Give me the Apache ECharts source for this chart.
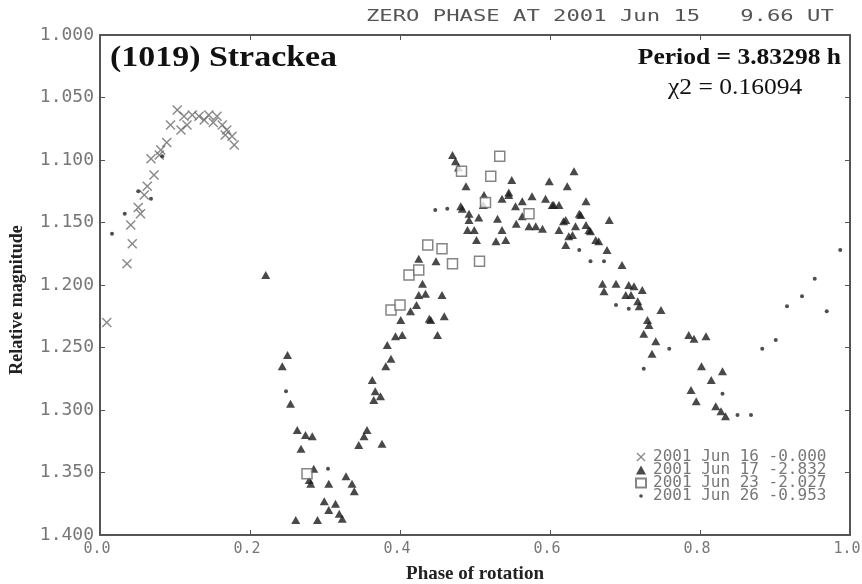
<!DOCTYPE html>
<html>
<head>
<meta charset="utf-8">
<script src="https://cdn.jsdelivr.net/npm/echarts@6/dist/echarts.min.js"></script>
<style>
  html, body { margin: 0; padding: 0; background: #fff; }
  #chart { width: 862px; height: 584px; }
</style>
</head>
<body>
<div id="chart"></div>
<script>
// [phase, relative magnitude] per night
const jun16 = [
  [0.009, 1.230], [0.036, 1.183], [0.043, 1.167], [0.041, 1.152], [0.054, 1.143], [0.051, 1.138],
  [0.059, 1.128], [0.063, 1.121], [0.072, 1.112], [0.068, 1.099], [0.079, 1.096], [0.081, 1.092],
  [0.089, 1.086], [0.094, 1.072], [0.103, 1.060], [0.108, 1.076], [0.112, 1.065], [0.116, 1.072],
  [0.123, 1.064], [0.132, 1.065], [0.139, 1.068], [0.145, 1.064], [0.151, 1.070], [0.156, 1.065],
  [0.163, 1.072], [0.167, 1.080], [0.169, 1.076], [0.176, 1.081], [0.179, 1.088]
]
const jun17 = [
  [0.221, 1.192],
  [0.243, 1.265], [0.250, 1.256], [0.254, 1.295],
  [0.263, 1.316], [0.274, 1.320], [0.283, 1.321], [0.268, 1.331], [0.285, 1.347], [0.279, 1.356],
  [0.281, 1.359], [0.305, 1.359], [0.328, 1.353], [0.336, 1.359], [0.339, 1.365],
  [0.299, 1.373], [0.314, 1.375], [0.319, 1.383], [0.305, 1.380], [0.261, 1.388], [0.290, 1.388], [0.323, 1.387],
  [0.345, 1.328], [0.352, 1.321], [0.356, 1.316], [0.376, 1.327], [0.363, 1.276], [0.365, 1.292],
  [0.374, 1.289], [0.367, 1.285], [0.381, 1.265], [0.388, 1.259], [0.383, 1.248], [0.394, 1.241],
  [0.403, 1.240], [0.401, 1.228], [0.441, 1.228], [0.450, 1.240], [0.414, 1.221], [0.422, 1.216],
  [0.425, 1.208], [0.434, 1.207], [0.430, 1.199], [0.456, 1.208], [0.439, 1.227], [0.459, 1.225],
  [0.425, 1.179], [0.448, 1.181],
  [0.470, 1.096], [0.474, 1.101], [0.478, 1.106], [0.488, 1.121], [0.549, 1.116], [0.599, 1.117],
  [0.632, 1.109], [0.623, 1.121], [0.512, 1.128], [0.511, 1.136], [0.536, 1.131], [0.545, 1.128],
  [0.563, 1.133], [0.576, 1.129], [0.594, 1.131], [0.603, 1.136], [0.612, 1.136], [0.648, 1.133],
  [0.481, 1.137], [0.492, 1.143], [0.505, 1.146], [0.554, 1.137], [0.545, 1.126],
  [0.483, 1.139], [0.492, 1.148], [0.499, 1.156], [0.490, 1.156], [0.502, 1.164], [0.530, 1.147],
  [0.536, 1.156], [0.528, 1.165], [0.541, 1.164], [0.555, 1.151], [0.563, 1.145], [0.572, 1.153],
  [0.581, 1.153], [0.590, 1.155], [0.612, 1.156], [0.621, 1.148], [0.639, 1.143], [0.634, 1.153],
  [0.625, 1.161], [0.621, 1.168], [0.652, 1.156], [0.661, 1.164],
  [0.605, 1.136], [0.641, 1.144], [0.618, 1.149], [0.679, 1.148], [0.648, 1.152], [0.654, 1.157],
  [0.630, 1.160], [0.665, 1.165], [0.676, 1.172], [0.696, 1.184], [0.670, 1.199], [0.688, 1.199],
  [0.672, 1.205], [0.705, 1.200], [0.712, 1.201], [0.723, 1.204], [0.701, 1.208], [0.708, 1.208],
  [0.717, 1.213], [0.719, 1.217], [0.748, 1.220], [0.730, 1.228], [0.732, 1.232], [0.725, 1.239],
  [0.741, 1.245], [0.736, 1.255], [0.785, 1.240], [0.792, 1.243], [0.808, 1.241], [0.802, 1.265],
  [0.815, 1.276], [0.830, 1.269], [0.788, 1.284], [0.795, 1.293], [0.821, 1.297], [0.828, 1.301],
  [0.834, 1.305]
]
const jun23 = [
  [0.276, 1.351], [0.388, 1.220], [0.400, 1.216], [0.412, 1.192], [0.425, 1.188], [0.437, 1.168],
  [0.456, 1.171], [0.470, 1.183], [0.482, 1.109], [0.506, 1.181], [0.521, 1.113], [0.533, 1.097],
  [0.514, 1.134], [0.572, 1.143]
]
const jun26 = [
  [0.016, 1.159], [0.033, 1.143], [0.051, 1.125], [0.068, 1.131], [0.083, 1.097], [0.248, 1.285],
  [0.304, 1.347], [0.447, 1.140], [0.463, 1.139], [0.639, 1.172], [0.654, 1.181], [0.672, 1.181],
  [0.688, 1.216], [0.705, 1.219], [0.725, 1.267], [0.759, 1.251], [0.830, 1.287], [0.850, 1.304],
  [0.868, 1.304], [0.883, 1.251], [0.901, 1.244], [0.916, 1.217], [0.936, 1.209], [0.953, 1.195],
  [0.969, 1.221], [0.987, 1.172]
]
const nightNames = ['2001 Jun 16 -0.000', '2001 Jun 17 -2.832', '2001 Jun 23 -2.027', '2001 Jun 26 -0.953']

const crossPath = 'path://M0,1L1,0L5,4L9,0L10,1L6,5L10,9L9,10L5,6L1,10L0,9L4,5Z'
const dotIcon = 'path://M0,0M10,10M3,5A2,2 0 1,1 7,5A2,2 0 1,1 3,5Z'
const mono = 'DejaVu Sans Mono'
const frame = '#555'

let myChart = echarts.init(document.getElementById('chart'))

const xBase = {
  type: 'value', min: 0, max: 1, interval: 0.2,
  axisLine: { show: true, onZero: false, lineStyle: { color: frame, width: 2 } },
  axisTick: { show: true, inside: true, length: 5, lineStyle: { color: frame } },
  splitLine: { show: false }
}
const yBase = {
  type: 'value', min: 1.0, max: 1.4, interval: 0.05, inverse: true,
  axisLine: { show: true, onZero: false, lineStyle: { color: frame, width: 2 } },
  axisTick: { show: true, inside: true, length: 5, lineStyle: { color: frame } },
  splitLine: { show: false }
}

myChart.setOption({
  backgroundColor: '#fff',
  animation: false,
  grid: { left: 100, right: 12, top: 35, bottom: 49, outerBoundsMode: 'none' },
  graphic: [
    { type: 'text', x: 366, y: 17, scaleX: 1.48,
      style: { text: 'ZERO PHASE AT 2001 Jun 15   9.66 UT', font: '15px "DejaVu Sans Mono"', fill: '#555', textVerticalAlign: 'middle' } },
    { type: 'text', x: 110, y: 59, scaleX: 1.17,
      style: { text: '(1019) Strackea', font: 'bold 29px "Liberation Serif"', fill: '#111', textVerticalAlign: 'middle' } },
    { type: 'text', x: 841, y: 58, scaleX: 1.11,
      style: { text: 'Period = 3.83298 h', font: 'bold 23px "Liberation Serif"', fill: '#111', textAlign: 'right', textVerticalAlign: 'middle' } },
    { type: 'text', x: 668, y: 88, scaleX: 1.11,
      style: { text: 'χ2 = 0.16094', font: '23px "Liberation Serif"', fill: '#111', textVerticalAlign: 'middle' } }
  ],
  legend: {
    orient: 'vertical', left: 635, top: 449, padding: 0,
    itemWidth: 10, itemHeight: 9, itemGap: -3,
    selectedMode: false,
    textStyle: { fontFamily: mono, fontSize: 16, color: '#777', padding: [0, 0, 0, 2] },
    data: [
      { name: nightNames[0] },
      { name: nightNames[1] },
      { name: nightNames[2] },
      { name: nightNames[3], icon: dotIcon }
    ]
  },
  xAxis: [
    Object.assign({}, xBase, {
      position: 'bottom',
      axisLabel: { formatter: v => v.toFixed(1), fontFamily: mono, fontSize: 15, color: '#777', margin: 7, padding: [0, 6, 0, 0] },
      name: 'Phase of rotation', nameLocation: 'middle', nameGap: 30,
      nameTextStyle: { fontFamily: 'Liberation Serif', fontWeight: 'bold', fontSize: 19, color: '#222' }
    }),
    Object.assign({}, xBase, { position: 'top', axisLabel: { show: false } })
  ],
  yAxis: [
    Object.assign({}, yBase, {
      position: 'left',
      axisLabel: { formatter: v => v.toFixed(3), fontFamily: mono, fontSize: 18, color: '#777', margin: 6 },
      name: 'Relative magnitude', nameLocation: 'middle', nameGap: 74,
      nameTextStyle: { fontFamily: 'Liberation Serif', fontWeight: 'bold', fontSize: 18, color: '#222', padding: [0, 30, 0, 0] }
    }),
    Object.assign({}, yBase, { position: 'right', axisLabel: { show: false } })
  ],
  series: [
    { name: nightNames[0], type: 'scatter', data: jun16, symbol: crossPath, symbolSize: 10,
      itemStyle: { color: '#6a6a6a' } },
    { name: nightNames[1], type: 'scatter', data: jun17, symbol: 'triangle', symbolSize: [9, 8],
      itemStyle: { color: '#1c1c1c' } },
    { name: nightNames[2], type: 'scatter', data: jun23, symbol: 'rect', symbolSize: 10,
      itemStyle: { color: '#fff', borderColor: '#666', borderWidth: 1.5 } },
    { name: nightNames[3], type: 'scatter', data: jun26, symbol: 'circle', symbolSize: 4,
      itemStyle: { color: '#222' } }
  ]
})
</script>
</body>
</html>
